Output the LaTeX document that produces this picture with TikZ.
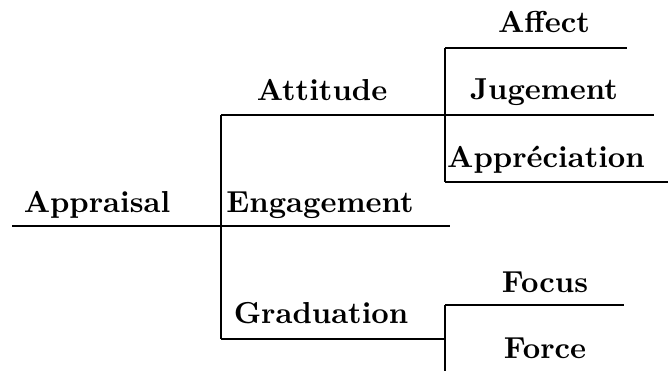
\documentclass[tikz,border=0pt]{standalone}
\usetikzlibrary{positioning,calc}
\begin{document}
\begin{tikzpicture}[x=0.343pt,y=-0.343pt,
  lbl/.style={font=\fontsize{10.4}{12}\selectfont\bfseries,anchor=base,inner sep=0pt},
  net/.style={black,line width=0.45pt}]
\useasboundingbox (0,0) rectangle (669,371);

% line ends
\coordinate (rootL) at (12,226);
\coordinate (sysA) at (221,226);
\coordinate (sysAtop) at (221,115);
\coordinate (sysAbot) at (221,339);
\coordinate (attR) at (445,115);
\coordinate (engR) at (450,226);
\coordinate (graR) at (445,339);
\coordinate (sysBtop) at (445,48);
\coordinate (sysBbot) at (445,182);
\coordinate (affR) at (627,48);
\coordinate (jugR) at (654,115);
\coordinate (appR) at (668,182);
\coordinate (sysCtop) at (445,305);
\coordinate (sysCbot) at (445,371);
\coordinate (focR) at (624,305);

% labels
\node[lbl] (appraisal) at (97,212) {Appraisal};
\node[lbl] (attitude) at (322,100) {Attitude};
\node[lbl] (engagement) at (320,212) {Engagement};
\node[lbl] (graduation) at (321,323) {Graduation};
\node[lbl] (affect) at (544,32) {Affect};
\node[lbl] (jugement) at (544,99) {Jugement};
\node[lbl] (appreciation) at (546,167) {Appréciation};
\node[lbl] (focus) at (545,292) {Focus};
\node[lbl] (force) at (545,358) {Force};

% first system
\draw[net] (rootL) -- (sysA);
\draw[net] (sysAtop) -- (sysAbot);
\draw[net] (sysAtop) -- (attR);
\draw[net] (sysA) -- (engR);
\draw[net] (sysAbot) -- (graR);

% attitude
\draw[net] (sysBtop) -- (sysBbot);
\draw[net] (sysBtop) -- (affR);
\draw[net] (attR) -- (jugR);
\draw[net] (sysBbot) -- (appR);

% graduation
\draw[net] (sysCtop) -- (sysCbot);
\draw[net] (sysCtop) -- (focR);
\end{tikzpicture}
\end{document}
